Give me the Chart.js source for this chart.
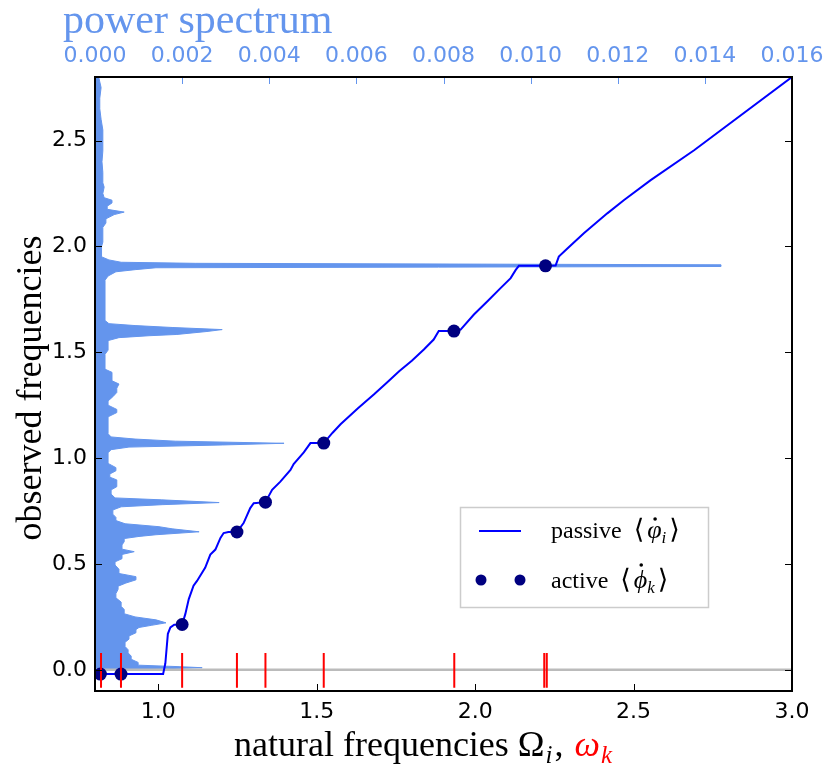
<!DOCTYPE html>
<html>
<head>
<meta charset="utf-8">
<script src="https://cdn.jsdelivr.net/npm/chart.js@4.4.1/dist/chart.umd.min.js"></script>
<style>
  html, body { margin: 0; padding: 0; background: #fff; }
  canvas { display: block; }
</style>
</head>
<body>
<canvas id="chart" width="830" height="764"></canvas>
<script>
// power spectrum of the mean field
const specFreq = [
  0.004, 0.010, 0.015, 0.022, 0.035, 0.050, 0.065, 0.080, 0.095, 0.110,
  0.130, 0.145, 0.160, 0.175, 0.190, 0.200, 0.210, 0.222, 0.236, 0.250,
  0.265, 0.285, 0.300, 0.320, 0.340, 0.360, 0.380, 0.395, 0.410, 0.425,
  0.440, 0.455, 0.475, 0.495, 0.510, 0.525, 0.545, 0.558, 0.570, 0.590,
  0.605, 0.620, 0.630, 0.638, 0.652, 0.666, 0.676, 0.690, 0.705, 0.720,
  0.735, 0.755, 0.770, 0.780, 0.790, 0.803, 0.812, 0.830, 0.850, 0.865,
  0.880, 0.897, 0.910, 0.925, 0.940, 0.955, 0.975, 1.000, 1.025, 1.040,
  1.052, 1.062, 1.070, 1.080, 1.090, 1.100, 1.115, 1.135, 1.156, 1.175,
  1.195, 1.215, 1.230, 1.250, 1.270, 1.290, 1.310, 1.330, 1.350, 1.365,
  1.390, 1.405, 1.420, 1.450, 1.490, 1.510, 1.540, 1.555, 1.569, 1.578,
  1.584, 1.598, 1.607, 1.617, 1.626, 1.635, 1.650, 1.700, 1.750, 1.800,
  1.840, 1.860, 1.880, 1.890, 1.899, 1.905, 1.913, 1.920, 1.925, 1.936,
  1.950, 1.980, 2.000, 2.020, 2.050, 2.090, 2.110, 2.130, 2.150, 2.162,
  2.175, 2.190, 2.205, 2.218, 2.230, 2.250, 2.280, 2.300, 2.350, 2.400,
  2.450, 2.500, 2.550, 2.600, 2.650, 2.700, 2.750, 2.795
];
const specPower = [
  0.00138, 0.00246, 0.00193, 0.00099, 0.00099, 0.00083, 0.00083, 0.00076, 0.00076, 0.00069,
  0.00069, 0.00078, 0.00078, 0.00094, 0.00094, 0.00101, 0.00129, 0.00163, 0.00140, 0.00092,
  0.00067, 0.00067, 0.00060, 0.00060, 0.00048, 0.00048, 0.00053, 0.00053, 0.00071, 0.00094,
  0.00094, 0.00055, 0.00055, 0.00046, 0.00046, 0.00062, 0.00062, 0.00090, 0.00062, 0.00062,
  0.00067, 0.00067, 0.00101, 0.00140, 0.00239, 0.00177, 0.00147, 0.00069, 0.00048, 0.00048,
  0.00041, 0.00041, 0.00060, 0.00154, 0.00285, 0.00152, 0.00046, 0.00037, 0.00037, 0.00050,
  0.00050, 0.00050, 0.00034, 0.00034, 0.00048, 0.00048, 0.00030, 0.00030, 0.00030, 0.00037,
  0.00078, 0.00292, 0.00434, 0.00184, 0.00092, 0.00037, 0.00030, 0.00030, 0.00030, 0.00030,
  0.00030, 0.00050, 0.00050, 0.00030, 0.00030, 0.00041, 0.00050, 0.00050, 0.00055, 0.00039,
  0.00039, 0.00039, 0.00023, 0.00023, 0.00023, 0.00030, 0.00030, 0.00030, 0.00055, 0.00124,
  0.00188, 0.00257, 0.00292, 0.00177, 0.00092, 0.00032, 0.00023, 0.00023, 0.00023, 0.00023,
  0.00023, 0.00030, 0.00048, 0.00092, 0.00140, 0.01437, 0.01437, 0.00230, 0.00060, 0.00032,
  0.00016, 0.00014, 0.00016, 0.00018, 0.00018, 0.00018, 0.00025, 0.00025, 0.00044, 0.00067,
  0.00028, 0.00028, 0.00039, 0.00039, 0.00021, 0.00018, 0.00021, 0.00018, 0.00018, 0.00016,
  0.00018, 0.00018, 0.00018, 0.00014, 0.00011, 0.00011, 0.00014, 0.00009
];

// passive oscillators: natural frequency -> observed frequency
const passiveNat = [
  0.800, 1.015, 1.022, 1.030, 1.038, 1.050, 1.075, 1.085, 1.096, 1.111,
  1.122, 1.148, 1.164, 1.180, 1.196, 1.206, 1.221, 1.248, 1.269, 1.290,
  1.301, 1.338, 1.359, 1.385, 1.417, 1.427, 1.459, 1.480, 1.522, 1.550,
  1.575, 1.630, 1.680, 1.720, 1.760, 1.800, 1.838, 1.869, 1.885, 1.933,
  1.954, 1.996, 2.038, 2.080, 2.112, 2.128, 2.138, 2.225, 2.254, 2.264,
  2.291, 2.343, 2.417, 2.470, 2.554, 2.691, 3.000
];
const passiveObs = [
  -0.020, -0.020, 0.030, 0.170, 0.200, 0.213, 0.214, 0.263, 0.334, 0.397,
  0.420, 0.483, 0.544, 0.568, 0.623, 0.646, 0.651, 0.651, 0.693, 0.764,
  0.787, 0.792, 0.850, 0.889, 0.944, 0.972, 1.027, 1.071, 1.071, 1.120,
  1.160, 1.235, 1.300, 1.355, 1.410, 1.460, 1.513, 1.560, 1.600, 1.600,
  1.607, 1.678, 1.740, 1.803, 1.850, 1.889, 1.908, 1.908, 1.910, 1.952,
  1.990, 2.062, 2.156, 2.219, 2.313, 2.454, 2.800
];

// active oscillators
const activeNat = [0.817, 0.882, 1.075, 1.248, 1.338, 1.522, 1.933, 2.222];
const activeObs = [-0.020, -0.020, 0.214, 0.651, 0.792, 1.071, 1.600, 1.908];

// natural frequencies omega_k of the active ones (red marks)
const omegaK = [0.819, 0.882, 1.075, 1.248, 1.338, 1.522, 1.934, 2.218, 2.226];

const xTicks = [1.0, 1.5, 2.0, 2.5, 3.0];
const yTicks = [0.0, 0.5, 1.0, 1.5, 2.0, 2.5];
const topTicks = [0.000, 0.002, 0.004, 0.006, 0.008, 0.010, 0.012, 0.014, 0.016];

const X_MIN = 0.8, X_MAX = 3.0;
const Y_MIN = -0.1, Y_MAX = 2.8;
const BLUE_SPEC = '#6495ED';
const SERIF = '"Liberation Serif", "DejaVu Serif", serif';

const specData = specFreq.map((f, i) => ({ x: specPower[i], y: f }));
const passiveData = passiveNat.map((w, i) => ({ x: w, y: passiveObs[i] }));
const activeData = activeNat.map((w, i) => ({ x: w, y: activeObs[i] }));
const omegaData = [];
omegaK.forEach(w => {
  omegaData.push({ x: w, y: -0.085 }, { x: w, y: 0.08 }, { x: w, y: null });
});

// draws a row of text pieces (for the little formulas), returns end x
function drawRun(ctx, x, y, parts) {
  parts.forEach(p => {
    ctx.font = p.font;
    ctx.fillStyle = p.color || '#000';
    ctx.fillText(p.t, x, y + (p.dy || 0));
    const w = ctx.measureText(p.t).width;
    if (p.dot) {
      ctx.beginPath();
      ctx.arc(x + w * 0.55, y - p.dot, 1.8, 0, Math.PI * 2);
      ctx.fill();
    }
    x += w + (p.gap || 0);
  });
  return x;
}

const decor = {
  id: 'decor',
  afterDraw(chart) {
    const ctx = chart.ctx;
    const a = chart.chartArea;
    const sx = chart.scales.x, sy = chart.scales.y, st = chart.scales.x2;
    ctx.save();

    // inward ticks
    ctx.lineWidth = 1;
    ctx.strokeStyle = '#000';
    ctx.beginPath();
    yTicks.forEach(v => {
      const p = Math.round(sy.getPixelForValue(v)) + 0.5;
      ctx.moveTo(a.left, p); ctx.lineTo(a.left + 7, p);
      ctx.moveTo(a.right, p); ctx.lineTo(a.right - 7, p);
    });
    xTicks.forEach(v => {
      const p = Math.round(sx.getPixelForValue(v)) + 0.5;
      ctx.moveTo(p, a.bottom); ctx.lineTo(p, a.bottom - 7);
    });
    ctx.stroke();
    ctx.strokeStyle = BLUE_SPEC;
    ctx.beginPath();
    topTicks.forEach(v => {
      const p = Math.round(st.getPixelForValue(v)) + 0.5;
      ctx.moveTo(p, a.top); ctx.lineTo(p, a.top + 7);
    });
    ctx.stroke();

    // frame
    ctx.strokeStyle = '#000';
    ctx.lineWidth = 2;
    ctx.strokeRect(a.left, a.top, a.right - a.left, a.bottom - a.top);

    // axis titles
    ctx.textBaseline = 'alphabetic';
    ctx.textAlign = 'left';
    ctx.fillStyle = BLUE_SPEC;
    ctx.font = '42px ' + SERIF;
    ctx.fillText('power spectrum', 63, 33);

    ctx.save();
    ctx.translate(41, 388);
    ctx.rotate(-Math.PI / 2);
    ctx.textAlign = 'center';
    ctx.fillStyle = '#000';
    ctx.font = '36px ' + SERIF;
    ctx.fillText('observed frequencies', 0, 0);
    ctx.restore();

    drawRun(ctx, 234, 756, [
      { t: 'natural frequencies ', font: '36px ' + SERIF },
      { t: '\u03A9', font: '36px ' + SERIF, gap: 1 },
      { t: 'i', font: 'italic 25px ' + SERIF, dy: 7, gap: 2 },
      { t: ', ', font: '36px ' + SERIF, gap: 2 },
      { t: '\u03C9', font: 'italic 36px ' + SERIF, color: '#ff0000', gap: 1 },
      { t: 'k', font: 'italic 25px ' + SERIF, dy: 7, color: '#ff0000' }
    ]);

    // legend
    ctx.strokeStyle = '#cccccc';
    ctx.lineWidth = 1.5;
    ctx.strokeRect(460.5, 507.5, 248, 100);
    ctx.strokeStyle = '#0000ff';
    ctx.lineWidth = 2;
    ctx.beginPath();
    ctx.moveTo(479, 531); ctx.lineTo(521, 531);
    ctx.stroke();
    ctx.fillStyle = '#000080';
    [481, 520].forEach(cx => {
      ctx.beginPath();
      ctx.arc(cx, 580, 5.5, 0, Math.PI * 2);
      ctx.fill();
    });
    const lf = '24px ' + SERIF;
    const lfi = 'italic 26px ' + SERIF;
    const lsub = 'italic 17px ' + SERIF;
    const ang = '27px "DejaVu Serif", "DejaVu Sans", serif';
    drawRun(ctx, 551, 538, [
      { t: 'passive ', font: lf, gap: 6 },
      { t: '\u27E8', font: ang, gap: 3 },
      { t: '\u03C6', font: lfi, dot: 19 },
      { t: 'i', font: lsub, dy: 5, gap: 3 },
      { t: '\u27E9', font: ang }
    ]);
    drawRun(ctx, 551, 588, [
      { t: 'active ', font: lf, gap: 6 },
      { t: '\u27E8', font: ang, gap: 3 },
      { t: '\u03D5', font: lfi, dot: 23 },
      { t: 'k', font: lsub, dy: 5, gap: 3 },
      { t: '\u27E9', font: ang }
    ]);
    ctx.restore();
  }
};

const tickFont = { family: '"DejaVu Sans"', size: 22 };

new Chart(document.getElementById('chart'), {
  type: 'line',
  data: {
    datasets: [
      {
        label: 'power spectrum',
        data: specData,
        indexAxis: 'y',
        xAxisID: 'x2',
        yAxisID: 'y',
        borderColor: BLUE_SPEC,
        backgroundColor: BLUE_SPEC,
        borderWidth: 1,
        pointRadius: 0,
        fill: 'origin',
        order: 5
      },
      {
        label: 'zero',
        data: [{ x: X_MIN, y: 0 }, { x: X_MAX, y: 0 }],
        xAxisID: 'x',
        borderColor: '#bbbbbb',
        borderWidth: 2.5,
        pointRadius: 0,
        order: 4
      },
      {
        label: 'passive',
        data: passiveData,
        xAxisID: 'x',
        borderColor: '#0000ff',
        borderWidth: 2,
        pointRadius: 0,
        order: 3
      },
      {
        label: 'active',
        data: activeData,
        xAxisID: 'x',
        showLine: false,
        pointRadius: 6.5,
        pointBorderWidth: 0,
        pointBackgroundColor: '#000080',
        borderColor: '#000080',
        order: 2
      },
      {
        label: 'omega_k',
        data: omegaData,
        xAxisID: 'x',
        borderColor: '#ff0000',
        borderWidth: 2,
        pointRadius: 0,
        spanGaps: false,
        order: 1
      }
    ]
  },
  options: {
    responsive: false,
    animation: false,
    layout: { padding: { left: 0, right: 38, top: 0, bottom: 0 } },
    plugins: {
      legend: { display: false },
      tooltip: { enabled: false }
    },
    scales: {
      x: {
        type: 'linear',
        position: 'bottom',
        min: X_MIN,
        max: X_MAX,
        grid: { display: false, drawTicks: false },
        border: { display: false },
        ticks: {
          font: tickFont,
          color: '#000',
          padding: 8,
          maxRotation: 0,
          autoSkip: false,
          callback: v => v.toFixed(1)
        },
        afterBuildTicks: s => { s.ticks = xTicks.map(v => ({ value: v })); },
        afterFit: s => { s.height = 73; s.paddingLeft = 0; s.paddingRight = 0; }
      },
      x2: {
        type: 'linear',
        position: 'top',
        min: 0,
        max: 0.016,
        grid: { display: false, drawTicks: false },
        border: { display: false },
        ticks: {
          font: tickFont,
          color: BLUE_SPEC,
          padding: 8,
          maxRotation: 0,
          autoSkip: false,
          callback: v => v.toFixed(3)
        },
        afterBuildTicks: s => { s.ticks = topTicks.map(v => ({ value: v })); },
        afterFit: s => { s.height = 77; s.paddingLeft = 0; s.paddingRight = 0; }
      },
      y: {
        type: 'linear',
        position: 'left',
        min: Y_MIN,
        max: Y_MAX,
        grid: { display: false, drawTicks: false },
        border: { display: false },
        ticks: {
          font: tickFont,
          color: '#000',
          padding: 8,
          autoSkip: false,
          callback: v => v.toFixed(1)
        },
        afterBuildTicks: s => { s.ticks = yTicks.map(v => ({ value: v })); },
        afterFit: s => { s.width = 95; s.paddingTop = 0; s.paddingBottom = 0; }
      }
    }
  },
  plugins: [decor]
});
</script>
</body>
</html>
